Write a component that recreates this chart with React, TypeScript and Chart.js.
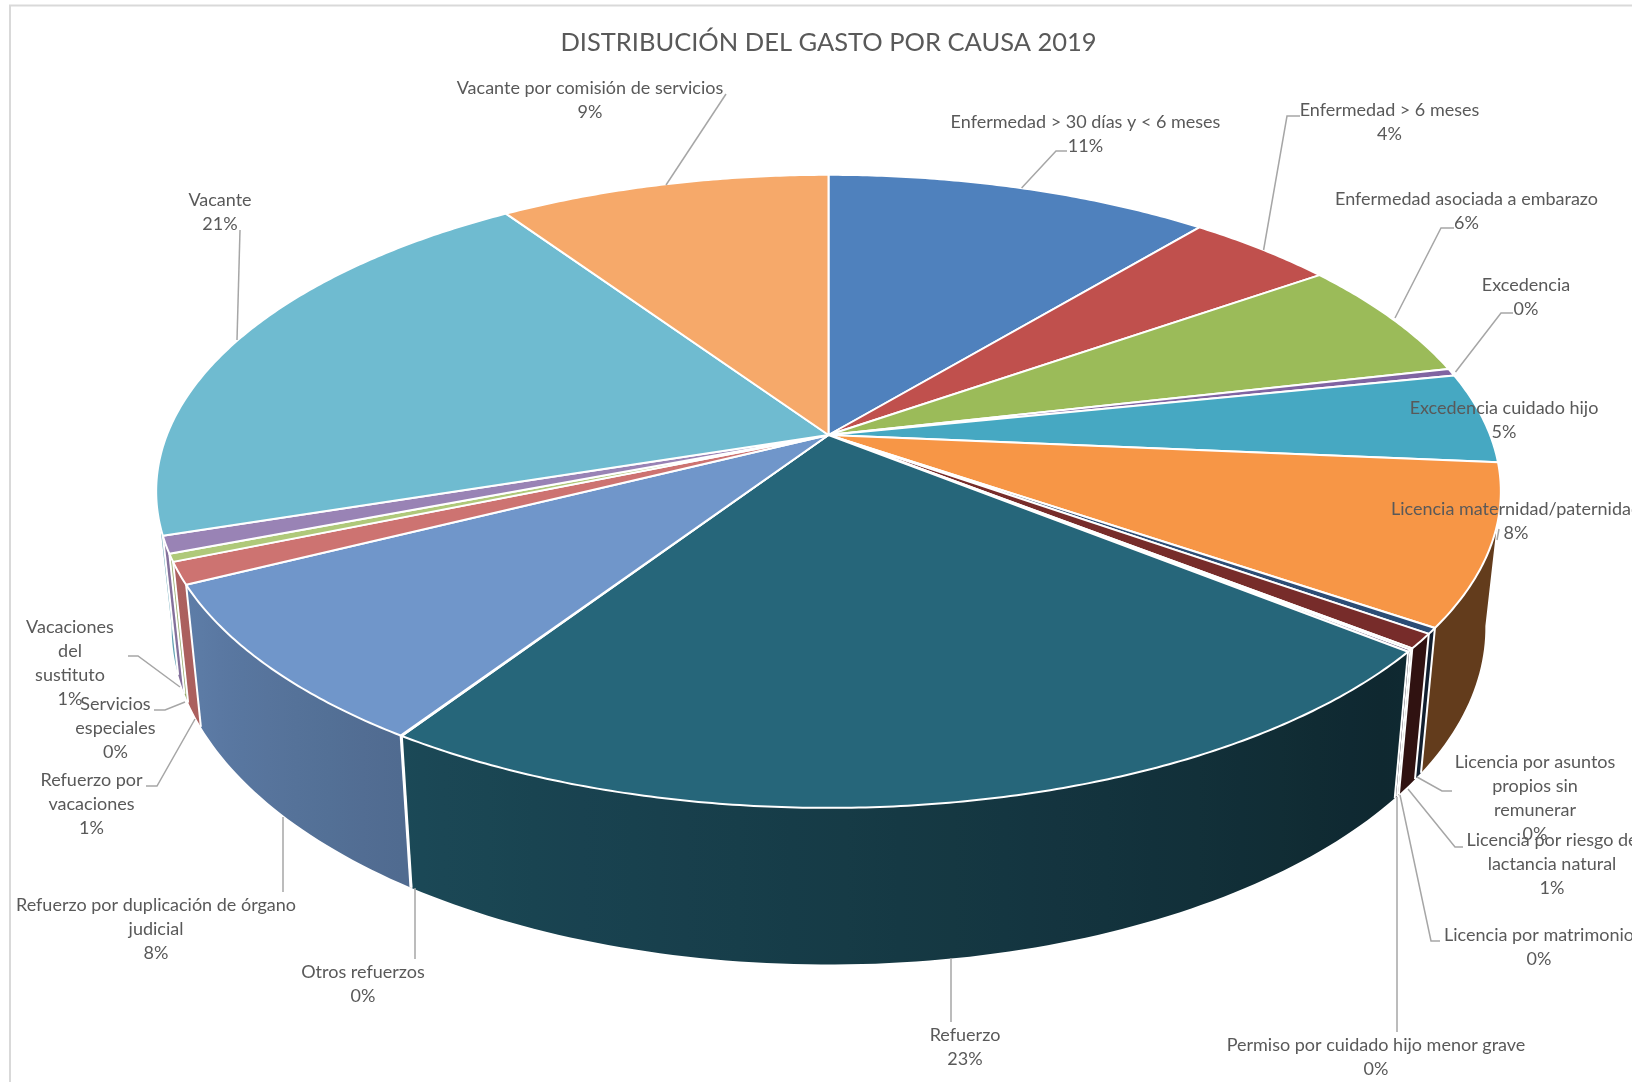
import React, { useEffect, useRef } from "react";
import { Chart, registerables } from "chart.js";

Chart.register(...registerables);

const titleText = "DISTRIBUCIÓN DEL GASTO POR CAUSA 2019";

const sliceNames = [
  "Enfermedad > 30 días y < 6 meses", "Enfermedad > 6 meses", "Enfermedad asociada a embarazo",
  "Excedencia", "Excedencia cuidado hijo", "Licencia maternidad/paternidad",
  "Licencia por asuntos propios sin remunerar", "Licencia por riesgo de lactancia natural",
  "Licencia por matrimonio", "Permiso por cuidado hijo menor grave", "Refuerzo", "Otros refuerzos",
  "Refuerzo por duplicación de órgano judicial", "Refuerzo por vacaciones", "Servicios especiales",
  "Vacaciones del sustituto", "Vacante", "Vacante por comisión de servicios",
];

const sliceValues = [11.0, 4.25, 6.15, 0.38, 4.62, 8.18, 0.3, 0.75, 0.08, 0.1, 23.44, 0.03, 8.3, 1.12, 0.4, 0.87, 20.58, 9.45];

const sliceColors = [
  "#4F81BD", "#C0504D", "#9BBB59", "#8064A2", "#46A8C2", "#F79646",
  "#2C4D75", "#772C2A", "#5F7530", "#4D3B62", "#26667A", "#B65708",
  "#7096CA", "#CD7371", "#AFC97A", "#9983B5", "#6FBBD0", "#F6A96A",
];

const labelLines = [
  ["Enfermedad > 30 días y < 6 meses"], ["Enfermedad > 6 meses"], ["Enfermedad asociada a embarazo"],
  ["Excedencia"], ["Excedencia cuidado hijo"], ["Licencia maternidad/paternidad"],
  ["Licencia por asuntos", "propios sin", "remunerar"], ["Licencia por riesgo de", "lactancia natural"],
  ["Licencia por matrimonio"], ["Permiso por cuidado hijo menor grave"], ["Refuerzo"], ["Otros refuerzos"],
  ["Refuerzo por duplicación de órgano", "judicial"], ["Refuerzo por", "vacaciones"], ["Servicios", "especiales"],
  ["Vacaciones", "del", "sustituto"], ["Vacante"], ["Vacante por comisión de servicios"],
];

const labelAnchors = [
  [1085.5, 122], [1389.5, 110], [1466.5, 199], [1526, 285], [1504, 408], [1516, 509],
  [1535, 762], [1552, 840], [1539, 935], [1376, 1045], [965, 1035], [363, 972],
  [156, 905], [91.5, 780], [115.5, 704], [70, 627], [220, 200], [590, 88],
];

const leaderLines = [
  [[1067, 151], [1056, 151], [1021.6, 188]],
  [[1300, 116], [1287, 116], [1263.6, 250]],
  [[1454, 228], [1441, 228], [1395, 318]],
  [[1513, 313], [1501, 313], [1455.5, 372]],
  [],
  [[1499, 529], [1497, 540]],
  [[1452, 791], [1442, 791], [1417, 777]],
  [[1463, 847], [1455, 847], [1408, 789]],
  [[1440, 941], [1431, 941], [1400, 795]],
  [[1397, 1032], [1397, 797]],
  [[951, 958], [951, 1022]],
  [[415, 888], [415, 959]],
  [[283, 817], [283, 892]],
  [[146, 786], [157, 786], [195, 719]],
  [[154, 710], [165, 710], [185, 702]],
  [[128, 656], [138, 656], [180, 687]],
  [[240, 230], [237, 340]],
  [[726, 94], [666, 185]],
];

const WIDTH = 1632;
const HEIGHT = 1082;
const CX = 828.5;
const CY = 435;
const RX = 661.6;
const RY = 306.5;
const PERSPECTIVE = 0.178;
const FONT = "Lato, Carlito, Calibri, sans-serif";
const TEXT_COLOR = "#595959";

// Angle from the top of the pie, clockwise -> point on the tilted top face.
function project(theta: number) {
  const u = Math.sin(theta);
  const v = -Math.cos(theta);
  const s = 1 / (1 - PERSPECTIVE * v);
  return { x: CX + RX * u * s, y: CY + RY * v * s };
}

// Point on the top face -> matching point on the lower rim.
function lower(p: { x: number; y: number }) {
  return { x: p.x - 0.023 * (p.x - CX), y: p.y + 145 + 0.065 * (p.y - 628.6) };
}

function shade(hex: string, f: number) {
  const n = parseInt(hex.slice(1), 16);
  const r = Math.round(((n >> 16) & 255) * f);
  const g = Math.round(((n >> 8) & 255) * f);
  const b = Math.round((n & 255) * f);
  return `rgb(${r},${g},${b})`;
}

function sideFactor(deg: number) {
  if (deg <= 130) return 0.4;
  if (deg >= 250) return 0.86;
  return 0.38 + ((deg - 130) / 120) * 0.48;
}

const pie3d = {
  id: "pie3d",
  beforeDraw(chart: any) {
    const { ctx } = chart;
    ctx.save();
    ctx.fillStyle = "#ffffff";
    ctx.fillRect(0, 0, WIDTH, HEIGHT);
    ctx.strokeStyle = "#D9D9D9";
    ctx.lineWidth = 2;
    ctx.strokeRect(10, 5.5, WIDTH + 40, HEIGHT + 40);
    ctx.restore();
  },
  beforeDatasetDraw(chart: any) {
    const { ctx } = chart;
    const arcs = chart.getDatasetMeta(0).data;
    const toTheta = (a: number) => a + Math.PI / 2;
    const RAD = Math.PI / 180;
    const sideFrom = 100 * RAD;
    const sideTo = 260 * RAD;
    ctx.save();
    ctx.lineJoin = "round";

    // Side wall, built from the arcs' angles, with a left-right shading band.
    arcs.forEach((arc: any, i: number) => {
      const a0 = Math.max(toTheta(arc.startAngle), sideFrom);
      const a1 = Math.min(toTheta(arc.endAngle), sideTo);
      if (a1 <= a0) return;
      const steps = Math.max(2, Math.ceil((a1 - a0) / RAD));
      const xa = project(a0).x;
      const xb = project(a1).x;
      const grad = ctx.createLinearGradient(xa, 0, xb === xa ? xa + 1 : xb, 0);
      const gradSteps = Math.max(1, Math.ceil((a1 - a0) / (4 * RAD)));
      for (let s = 0; s <= gradSteps; s++) {
        const t = a0 + ((a1 - a0) * s) / gradSteps;
        const pos = (project(t).x - xa) / (xb - xa || 1);
        grad.addColorStop(Math.min(1, Math.max(0, pos)), shade(sliceColors[i], sideFactor(t / RAD)));
      }
      ctx.fillStyle = grad;
      ctx.beginPath();
      for (let s = 0; s <= steps; s++) {
        const p = project(a0 + ((a1 - a0) * s) / steps);
        if (s) ctx.lineTo(p.x, p.y);
        else ctx.moveTo(p.x, p.y);
      }
      for (let s = steps; s >= 0; s--) {
        const q = lower(project(a0 + ((a1 - a0) * s) / steps));
        ctx.lineTo(q.x, q.y);
      }
      ctx.closePath();
      ctx.fill();
    });
    // White seams between the wall pieces.
    ctx.strokeStyle = "#ffffff";
    ctx.lineWidth = 2;
    arcs.forEach((arc: any) => {
      const t = toTheta(arc.endAngle);
      if (t <= sideFrom || t >= sideTo) return;
      const p = project(t);
      const q = lower(p);
      ctx.beginPath();
      ctx.moveTo(p.x, p.y);
      ctx.lineTo(q.x, q.y);
      ctx.stroke();
    });

    // Top face.
    arcs.forEach((arc: any, i: number) => {
      const a0 = toTheta(arc.startAngle);
      const a1 = toTheta(arc.endAngle);
      const steps = Math.max(2, Math.ceil((a1 - a0) / (0.5 * RAD)));
      ctx.beginPath();
      ctx.moveTo(CX, CY);
      for (let s = 0; s <= steps; s++) {
        const p = project(a0 + ((a1 - a0) * s) / steps);
        ctx.lineTo(p.x, p.y);
      }
      ctx.closePath();
      ctx.fillStyle = sliceColors[i];
      ctx.fill();
      ctx.strokeStyle = "#ffffff";
      ctx.lineWidth = 2;
      ctx.stroke();
    });
    ctx.restore();
    return false;
  },
  afterDatasetsDraw(chart: any) {
    const { ctx } = chart;
    const total = sliceValues.reduce((a, b) => a + b, 0);
    ctx.save();
    ctx.strokeStyle = "#A6A6A6";
    ctx.lineWidth = 1.5;
    leaderLines.forEach((line) => {
      if (!line.length) return;
      ctx.beginPath();
      line.forEach(([x, y], j) => (j ? ctx.lineTo(x, y) : ctx.moveTo(x, y)));
      ctx.stroke();
    });
    ctx.font = `18px ${FONT}`;
    ctx.fillStyle = TEXT_COLOR;
    ctx.textAlign = "center";
    ctx.textBaseline = "middle";
    labelLines.forEach((lines, i) => {
      const [x, y] = labelAnchors[i];
      const pct = Math.round((sliceValues[i] / total) * 100) + "%";
      [...lines, pct].forEach((t, j) => ctx.fillText(t, x, y + j * 23.9));
    });
    ctx.restore();
  },
};

export default function App() {
  const ref = useRef<HTMLCanvasElement>(null);
  useEffect(() => {
    document.body.style.margin = "0";
    const chart = new Chart(ref.current as HTMLCanvasElement, {
      type: "pie",
      data: {
        labels: sliceNames,
        datasets: [{ data: sliceValues, backgroundColor: sliceColors, borderColor: "#ffffff", borderWidth: 2 }],
      },
      options: {
        responsive: false,
        animation: false,
        rotation: 0,
        layout: { padding: { left: 25 } },
        plugins: {
          legend: { display: false },
          tooltip: { enabled: false },
          title: {
            display: true,
            text: titleText,
            color: TEXT_COLOR,
            font: { family: FONT, size: 25.5, weight: "normal" },
            padding: { top: 27, bottom: 10 },
          },
        },
      },
      plugins: [pie3d],
    } as any);
    return () => chart.destroy();
  }, []);
  return <canvas ref={ref} width={WIDTH} height={HEIGHT} style={{ display: "block", width: WIDTH, height: HEIGHT }} />;
}
